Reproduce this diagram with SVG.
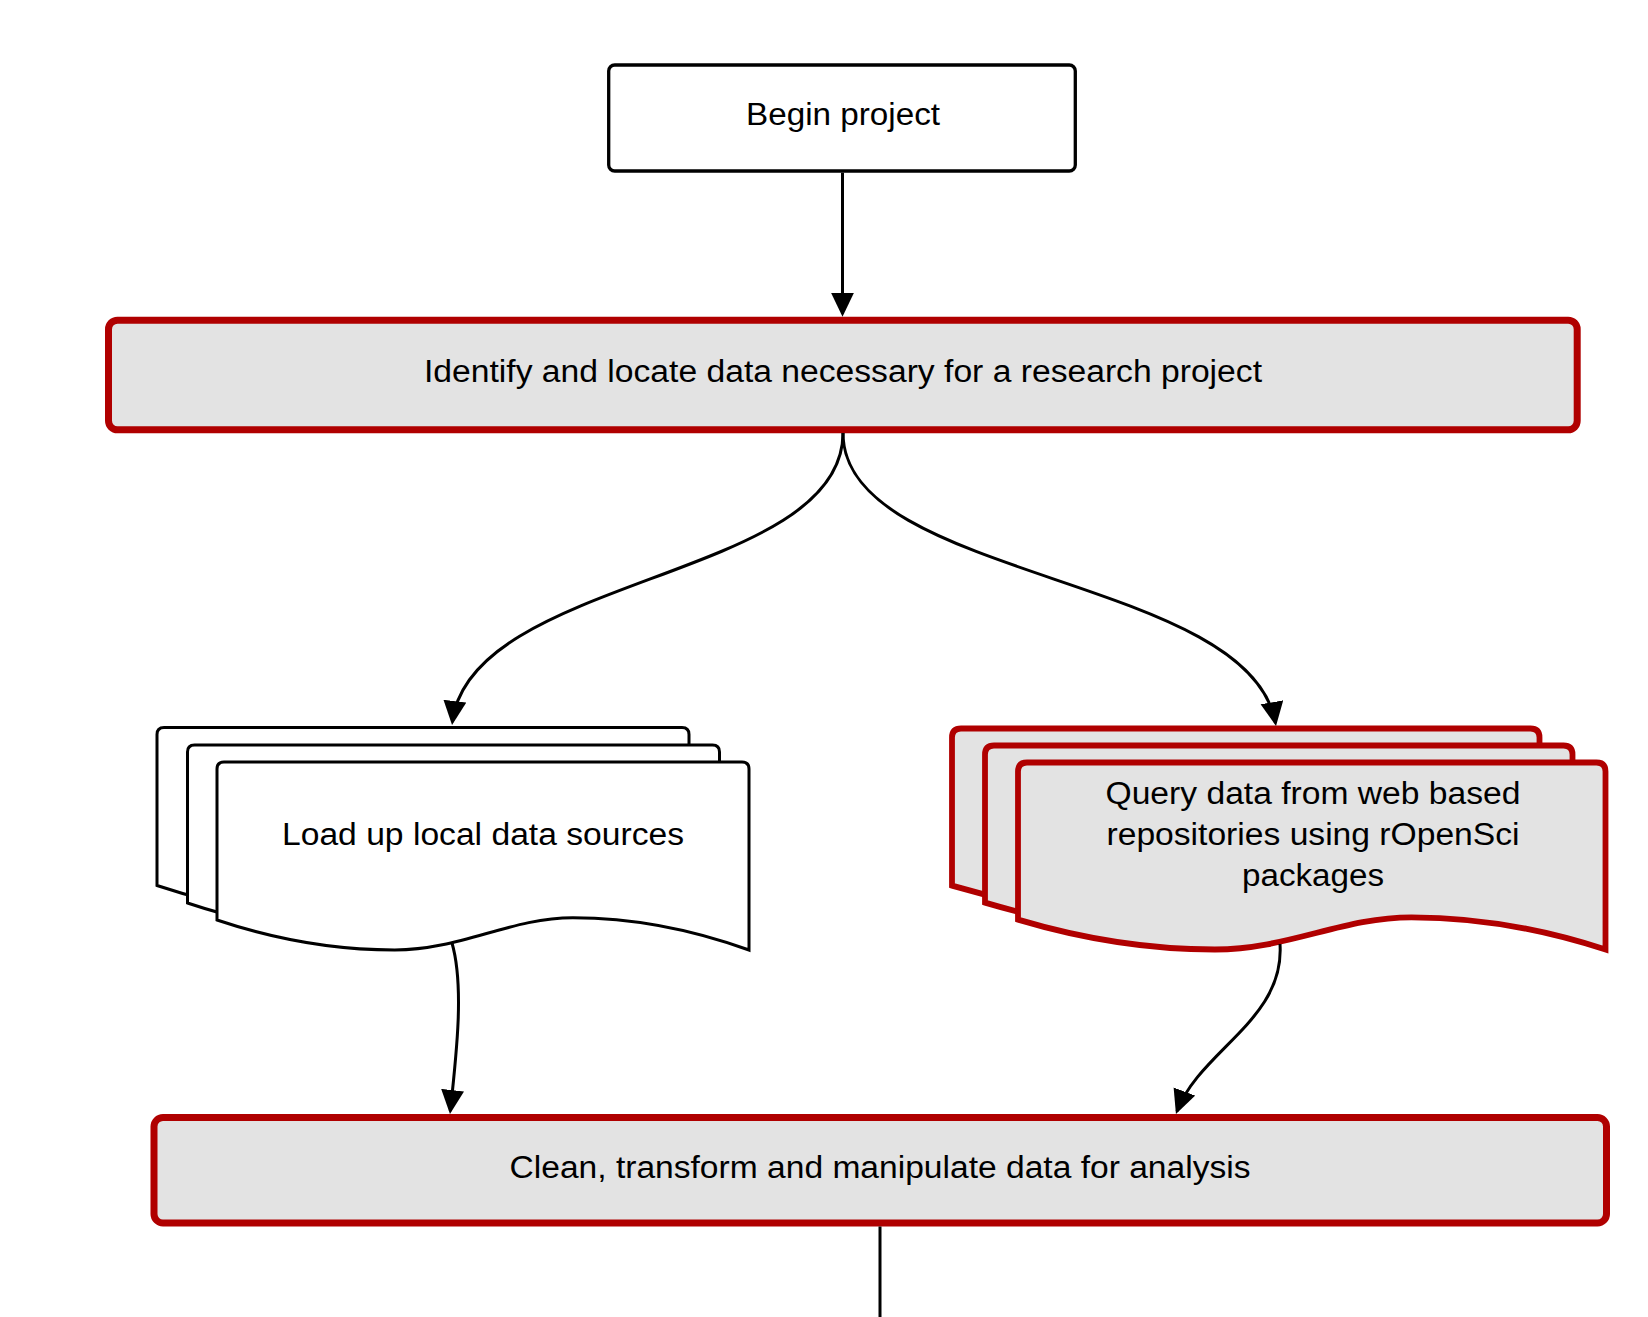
<svg xmlns="http://www.w3.org/2000/svg" width="1648" height="1317" viewBox="0 0 1648 1317">
<style>
text{font-family:"Liberation Sans",Arial,sans-serif;font-size:31px;fill:#000;text-anchor:middle}
.plain{fill:#fff;stroke:#000;stroke-width:3.3}
.key{fill:#e3e3e3;stroke:#b00000;stroke-width:7}
.docw{fill:#fff;stroke:#000;stroke-width:3;stroke-linejoin:miter}
.docr{fill:#e3e3e3;stroke:#b00000;stroke-width:5.8;stroke-linejoin:miter}
.conn{fill:none;stroke:#000;stroke-width:3}
</style>
<defs>
<marker id="ah" markerUnits="userSpaceOnUse" markerWidth="26" markerHeight="24" refX="21" refY="11.5" orient="auto" viewBox="0 0 26 24">
<path d="M0,0 L24,11.5 L0,23 Z" fill="#000"/>
</marker>
<path id="docL" d="M0,7 Q0,0 7,0 H525 Q532,0 532,7 V188 C482.5,170.1 422.9,155.7 355.9,155.7 C293.7,155.7 243.7,188 177.7,188 C113.8,188 54.3,176.2 0,158 Z"/>
<path id="docR" d="M0,9 Q0,0 9,0 H578.5 Q587.5,0 587.5,9 V187 C533,169.2 467.3,154.8 393.4,154.8 C324.7,154.8 269.6,187 196.9,187 C126.5,187 60.8,175.2 0,157.1 Z"/>
</defs>
<rect width="1648" height="1317" fill="#fff"/>

<g id="begin">
<rect class="plain" x="608.7" y="65" width="466.6" height="106" rx="6"/>
<text x="843" y="125" textLength="194" lengthAdjust="spacingAndGlyphs">Begin project</text>
</g>

<g id="identify">
<rect class="key" x="108.5" y="320.2" width="1468.7" height="109.6" rx="9"/>
<text x="843" y="382" textLength="838" lengthAdjust="spacingAndGlyphs">Identify and locate data necessary for a research project</text>
</g>

<g id="local">
<use href="#docL" class="docw" x="157" y="727.5"/>
<use href="#docL" class="docw" x="187.5" y="745"/>
<use href="#docL" class="docw" x="217" y="762"/>
<text x="483" y="845" textLength="402" lengthAdjust="spacingAndGlyphs">Load up local data sources</text>
</g>

<g id="query">
<use href="#docR" class="docr" x="952" y="728.5"/>
<use href="#docR" class="docr" x="985" y="745.5"/>
<use href="#docR" class="docr" x="1018" y="762.5"/>
<text x="1313" y="804" textLength="415" lengthAdjust="spacingAndGlyphs">Query data from web based</text>
<text x="1313" y="845" textLength="413" lengthAdjust="spacingAndGlyphs">repositories using rOpenSci</text>
<text x="1313" y="886" textLength="142" lengthAdjust="spacingAndGlyphs">packages</text>
</g>

<g id="clean">
<rect class="key" x="154" y="1117.5" width="1452.5" height="105.5" rx="9"/>
<text x="880" y="1178" textLength="741" lengthAdjust="spacingAndGlyphs">Clean, transform and manipulate data for analysis</text>
</g>

<g id="connectors">
<path class="conn" d="M842.5,172.7 V313.7" marker-end="url(#ah)"/>
<path class="conn" d="M843,433 C843,580 470,575 452.4,722" marker-end="url(#ah)"/>
<path class="conn" d="M843,433 C843,580 1250,575 1275.5,723" marker-end="url(#ah)"/>
<path class="conn" d="M452,943 C464,985 457,1050 450.3,1111" marker-end="url(#ah)"/>
<path class="conn" d="M1280,944 C1285,1020 1200,1050 1177,1111.2" marker-end="url(#ah)"/>
<path class="conn" d="M880,1226.5 V1317"/>
</g>
</svg>
